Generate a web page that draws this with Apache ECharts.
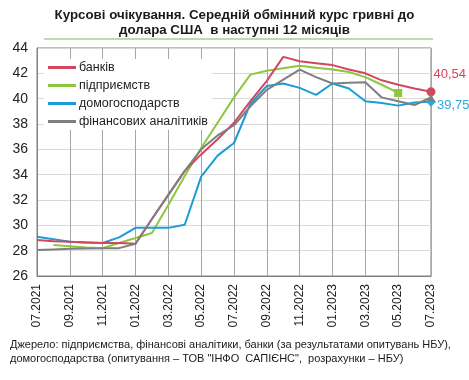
<!DOCTYPE html>
<html><head><meta charset="utf-8">
<script src="https://cdn.jsdelivr.net/npm/echarts@6/dist/echarts.min.js"></script>
<style>html,body{margin:0;padding:0;background:#fff}#c{width:469px;height:380px}</style>
</head><body><div id="c"></div>
<script>
const categories = ['07.2021','08.2021','09.2021','10.2021','11.2021','12.2021','01.2022','02.2022','03.2022','04.2022','05.2022','06.2022','07.2022','08.2022','09.2022','10.2022','11.2022','12.2022','01.2023','02.2023','03.2023','04.2023','05.2023','06.2023','07.2023'];
const seriesNames = ['банків','підприємств','домогосподарств','фінансових аналітиків'];
const banks = [28.85,28.75,28.7,28.65,28.6,28.6,28.55,30.5,32.4,34.3,35.6,36.8,38.1,39.8,41.4,43.3,42.95,42.8,42.65,42.3,42.0,41.45,41.1,40.8,40.54];
const enterprises = [null,28.45,28.35,28.25,28.2,28.6,29.0,29.4,31.6,33.9,36.1,38.1,40.1,41.9,42.2,42.4,42.6,42.45,42.3,42.1,41.7,41.1,40.45,null,null];
const households = [29.1,28.9,28.7,28.65,28.6,29.05,29.8,29.8,29.8,30.05,33.85,35.5,36.5,39.6,41.0,41.2,40.85,40.3,41.2,40.8,39.8,39.65,39.45,39.7,39.75];
const analysts = [28.05,28.1,28.15,28.18,28.2,28.2,28.55,30.5,32.4,34.3,36.0,37.1,37.9,39.4,40.7,41.5,42.3,41.7,41.2,41.25,41.3,40.1,39.8,39.5,40.1];
const yTicks = {min:26, max:44, step:2};
const titleLines = ['Курсові очікування. Середній обмінний курс гривні до','долара США  в наступні 12 місяців'];
const sourceLines = ['Джерело: підприємства, фінансові аналітики, банки (за результатами опитувань НБУ),','домогосподарства (опитування – ТОВ "ІНФО  САПІЄНС",  розрахунки – НБУ)'];

const FONT = '"Liberation Sans", Arial, sans-serif';
const colors = ['#d6455e','#8dc63f','#1a9dd6','#7f7f7f'];

function lastIndex(arr){ for(let i=arr.length-1;i>=0;i--) if(arr[i]!=null) return i; return -1; }
function fmt(v){ return String(v.toFixed(2)).replace('.',','); }
function withEnd(arr, sym, size, color, label){
  const li = lastIndex(arr);
  return arr.map((v,i)=>{
    if(i!==li || v==null) return v;
    const item = {value:v, symbol:sym, symbolSize:size, itemStyle:{color:color}};
    if(label) item.label = Object.assign({show:true, formatter:()=>fmt(v), color:color, fontSize:13, fontFamily:FONT, position:'right'}, label);
    return item;
  });
}

const chart = echarts.init(document.getElementById('c'), null, {renderer:'canvas'});
const mk = (name, data, color, z) => ({
  name, type:'line', data, symbol:'none', showSymbol:true, showAllSymbol:true, connectNulls:true,
  lineStyle:{color, width:2}, itemStyle:{color}, z, animation:false
});
chart.setOption({
  animation:false,
  color: colors,
  title:{
    text: titleLines.join('\n'), left:'center', top:3,
    textStyle:{fontFamily:FONT, fontSize:13.3, fontWeight:'bold', color:'#1a1a1a', lineHeight:15}
  },
  graphic:[
    {type:'line', shape:{x1:44,y1:39,x2:433,y2:39}, style:{stroke:'#a9d18e', lineWidth:1.5}},
    {type:'text', left:10, top:338, style:{text: sourceLines.join('\n'), font:'11px '+FONT, fill:'#1a1a1a', lineHeight:14}}
  ],
  legend:{
    data: seriesNames, orient:'vertical', left:44, top:59, itemWidth:28, itemHeight:3, itemGap:5,
    icon:'rect', backgroundColor:'#fff', padding:[2,4,2,4], z:1,
    textStyle:{fontFamily:FONT, fontSize:12.5, color:'#222', padding:[0,0,0,-2]}
  },
  grid:{left:37, right:38, top:48, bottom:104, show:true, borderColor:'#808080', borderWidth:1},
  xAxis:{
    type:'category', data:categories, boundaryGap:false,
    axisLine:{lineStyle:{color:'#808080'}}, axisTick:{show:false},
    axisLabel:{interval:1, rotate:90, fontFamily:FONT, fontSize:12, color:'#222', margin:8},
    splitLine:{show:true, interval:1, lineStyle:{color:'#a6a6a6', width:1}}
  },
  yAxis:{
    type:'value', min:yTicks.min, max:yTicks.max, interval:yTicks.step,
    axisLine:{show:true, lineStyle:{color:'#808080'}}, axisTick:{show:false},
    axisLabel:{fontFamily:FONT, fontSize:14, color:'#222', margin:9},
    splitLine:{lineStyle:{color:'#d9d9d9'}}
  },
  series:[
    mk(seriesNames[0], withEnd(banks,'circle',9,colors[0],{offset:[-7,-17]}), colors[0], 3),
    mk(seriesNames[1], withEnd(enterprises,'rect',8,colors[1]), colors[1], 2),
    mk(seriesNames[2], withEnd(households,'diamond',10,'#2aa8e4',{offset:[-4,4], color:'#2aa8e4'}), colors[2], 2),
    mk(seriesNames[3], withEnd(analysts,'triangle',8,colors[3]), colors[3], 4)
  ]
});
</script></body></html>
